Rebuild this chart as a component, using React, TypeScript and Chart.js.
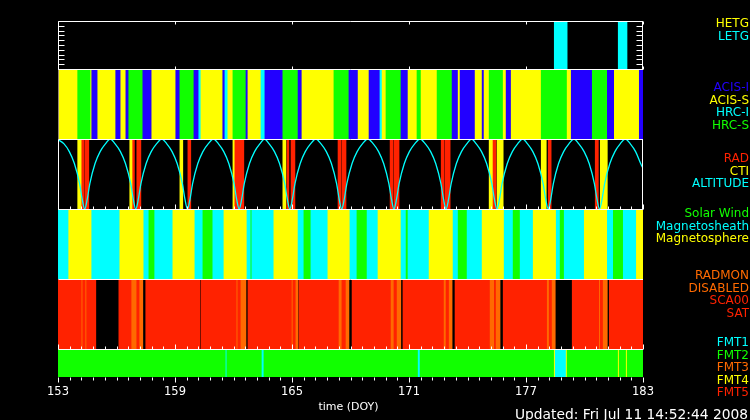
import React, { useEffect, useRef } from 'react';
import { Chart, registerables } from 'chart.js';

Chart.register(...registerables);

type Seg = [number, number, string];

const xMin = 153;
const xMax = 183;
const xTicks = [153, 159, 165, 171, 177, 183];

const gratingLegend = ['HETG', 'LETG'];
const instrumentLegend = ['ACIS-I', 'ACIS-S', 'HRC-I', 'HRC-S'];
const radLegend = ['RAD', 'CTI', 'ALTITUDE'];
const solarLegend = ['Solar Wind', 'Magnetosheath', 'Magnetosphere'];
const radmonLegend = ['RADMON', 'DISABLED', 'SCA00', 'SAT'];
const fmtLegend = ['FMT1', 'FMT2', 'FMT3', 'FMT4', 'FMT5'];

const gratingSegments: Seg[] = [
  [178.45, 179.11, 'LETG'],
  [181.73, 182.18, 'LETG'],
];

const instrumentSegments: Seg[] = [
  [153.0, 153.04, 'ACIS-I'], [153.04, 154.01, 'ACIS-S'], [154.01, 154.68, 'HRC-S'], [154.68, 154.73, 'ACIS-S'],
  [154.73, 155.04, 'ACIS-I'], [155.04, 155.96, 'ACIS-S'], [155.96, 156.22, 'ACIS-I'], [156.22, 156.48, 'ACIS-S'],
  [156.48, 156.63, 'ACIS-I'], [156.63, 157.35, 'HRC-S'], [157.35, 157.81, 'ACIS-I'], [157.81, 159.04, 'ACIS-S'],
  [159.04, 159.25, 'ACIS-I'], [159.25, 159.97, 'HRC-S'], [159.97, 160.22, 'ACIS-I'], [160.22, 160.33, 'HRC-I'],
  [160.33, 161.45, 'ACIS-S'], [161.45, 161.56, 'ACIS-I'], [161.56, 161.71, 'HRC-I'], [161.71, 161.97, 'ACIS-S'],
  [161.97, 162.64, 'HRC-S'], [162.64, 162.74, 'ACIS-I'], [162.74, 163.41, 'ACIS-S'], [163.41, 163.61, 'HRC-I'],
  [163.61, 164.53, 'ACIS-I'], [164.53, 165.31, 'HRC-S'], [165.31, 165.51, 'ACIS-I'], [165.51, 167.15, 'ACIS-S'],
  [167.15, 167.92, 'HRC-S'], [167.92, 168.39, 'ACIS-I'], [168.39, 168.95, 'ACIS-S'], [168.95, 169.51, 'ACIS-I'],
  [169.51, 169.62, 'HRC-I'], [169.62, 169.82, 'ACIS-S'], [169.82, 170.59, 'HRC-S'], [170.59, 170.95, 'ACIS-I'],
  [170.95, 171.41, 'ACIS-S'], [171.41, 171.62, 'HRC-S'], [171.62, 172.44, 'ACIS-S'], [172.44, 173.21, 'HRC-S'],
  [173.21, 173.52, 'ACIS-I'], [173.52, 173.62, 'ACIS-S'], [173.62, 174.39, 'ACIS-I'], [174.39, 174.75, 'ACIS-S'],
  [174.75, 174.85, 'ACIS-I'], [174.85, 175.11, 'ACIS-S'], [175.11, 175.83, 'HRC-S'], [175.83, 175.98, 'ACIS-S'],
  [175.98, 176.24, 'ACIS-I'], [176.24, 177.78, 'ACIS-S'], [177.78, 179.11, 'HRC-S'], [179.11, 179.32, 'ACIS-S'],
  [179.32, 180.4, 'ACIS-I'], [180.4, 181.17, 'HRC-S'], [181.17, 181.53, 'ACIS-I'], [181.53, 182.81, 'ACIS-S'],
  [182.81, 183.0, 'ACIS-I'],
];

const radSegments: Seg[] = [
  [154.01, 154.22, 'CTI'], [154.22, 154.32, 'RAD'], [154.37, 154.58, 'RAD'],
  [156.68, 156.83, 'CTI'], [156.83, 156.92, 'RAD'], [157.04, 157.25, 'RAD'],
  [159.25, 159.40, 'CTI'], [159.66, 159.81, 'RAD'],
  [161.97, 162.07, 'CTI'], [162.07, 162.53, 'RAD'],
  [164.53, 164.69, 'CTI'], [164.74, 164.84, 'RAD'], [164.95, 165.15, 'RAD'],
  [167.36, 167.51, 'RAD'], [167.56, 167.77, 'RAD'],
  [170.03, 170.18, 'RAD'], [170.23, 170.49, 'RAD'],
  [172.65, 172.80, 'RAD'], [172.85, 173.11, 'RAD'],
  [175.11, 175.31, 'CTI'], [175.31, 175.47, 'RAD'], [175.52, 175.83, 'CTI'],
  [177.78, 178.04, 'CTI'], [178.14, 178.29, 'RAD'],
  [180.55, 180.71, 'RAD'], [180.81, 181.17, 'CTI'],
];

// altitude (normalised 0 = perigee, 1 = apogee), [DOY, value]
const altitude: [number, number][] = [
  [153.00, 0.99], [153.31, 0.93], [153.58, 0.82], [153.84, 0.65], [154.11, 0.36], [154.24, 0.14], [154.37, 0.0],
  [154.50, 0.14], [154.63, 0.36], [154.90, 0.65], [155.16, 0.82], [155.43, 0.93], [155.68, 1.0],
  [155.93, 0.93], [156.20, 0.82], [156.46, 0.65], [156.73, 0.36], [156.86, 0.14], [156.99, 0.0],
  [157.12, 0.14], [157.25, 0.36], [157.52, 0.65], [157.78, 0.82], [158.05, 0.93], [158.32, 1.0],
  [158.58, 0.93], [158.85, 0.82], [159.11, 0.65], [159.38, 0.36], [159.51, 0.14], [159.64, 0.0],
  [159.77, 0.14], [159.90, 0.36], [160.17, 0.65], [160.43, 0.82], [160.70, 0.93], [160.97, 1.0],
  [161.23, 0.93], [161.50, 0.82], [161.76, 0.65], [162.03, 0.36], [162.16, 0.14], [162.29, 0.0],
  [162.42, 0.14], [162.55, 0.36], [162.82, 0.65], [163.08, 0.82], [163.35, 0.93], [163.59, 1.0],
  [163.83, 0.93], [164.10, 0.82], [164.36, 0.65], [164.63, 0.36], [164.76, 0.14], [164.89, 0.0],
  [165.02, 0.14], [165.15, 0.36], [165.42, 0.65], [165.68, 0.82], [165.95, 0.93], [166.22, 1.0],
  [166.49, 0.93], [166.76, 0.82], [167.02, 0.65], [167.29, 0.36], [167.42, 0.14], [167.55, 0.0],
  [167.68, 0.14], [167.81, 0.36], [168.08, 0.65], [168.34, 0.82], [168.61, 0.93], [168.89, 1.0],
  [169.17, 0.93], [169.44, 0.82], [169.70, 0.65], [169.97, 0.36], [170.10, 0.14], [170.23, 0.0],
  [170.36, 0.14], [170.49, 0.36], [170.76, 0.65], [171.02, 0.82], [171.29, 0.93], [171.57, 1.0],
  [171.84, 0.93], [172.11, 0.82], [172.37, 0.65], [172.64, 0.36], [172.77, 0.14], [172.90, 0.0],
  [173.03, 0.14], [173.16, 0.36], [173.43, 0.65], [173.69, 0.82], [173.96, 0.93], [174.21, 1.0],
  [174.45, 0.93], [174.72, 0.82], [174.98, 0.65], [175.25, 0.36], [175.38, 0.14], [175.51, 0.0],
  [175.64, 0.14], [175.77, 0.36], [176.04, 0.65], [176.30, 0.82], [176.57, 0.93], [176.83, 1.0],
  [177.08, 0.93], [177.35, 0.82], [177.61, 0.65], [177.88, 0.36], [178.01, 0.14], [178.14, 0.0],
  [178.27, 0.14], [178.40, 0.36], [178.67, 0.65], [178.93, 0.82], [179.20, 0.93], [179.46, 1.0],
  [179.71, 0.93], [179.98, 0.82], [180.24, 0.65], [180.51, 0.36], [180.64, 0.14], [180.77, 0.0],
  [180.90, 0.14], [181.03, 0.36], [181.30, 0.65], [181.56, 0.82], [181.83, 0.93], [182.09, 1.0],
  [182.35, 0.93], [182.62, 0.82], [182.88, 0.65], [183.00, 0.58],
];

const solarSegments: Seg[] = [
  [153.0, 153.55, 'Magnetosheath'], [153.55, 154.73, 'Magnetosphere'], [154.73, 156.17, 'Magnetosheath'],
  [156.17, 157.40, 'Magnetosphere'], [157.40, 157.66, 'Magnetosheath'], [157.66, 157.96, 'Solar Wind'],
  [157.96, 158.89, 'Magnetosheath'], [158.89, 160.02, 'Magnetosphere'], [160.02, 160.43, 'Magnetosheath'],
  [160.43, 160.94, 'Solar Wind'], [160.94, 161.51, 'Magnetosheath'], [161.51, 162.69, 'Magnetosphere'],
  [162.69, 162.89, 'Magnetosheath'], [162.89, 162.94, 'Solar Wind'], [162.94, 164.07, 'Magnetosheath'],
  [164.07, 165.31, 'Magnetosphere'], [165.31, 165.61, 'Magnetosheath'], [165.61, 165.97, 'Solar Wind'],
  [165.97, 166.84, 'Magnetosheath'], [166.84, 167.97, 'Magnetosphere'], [167.97, 168.33, 'Magnetosheath'],
  [168.33, 168.85, 'Solar Wind'], [168.85, 169.41, 'Magnetosheath'], [169.41, 170.59, 'Magnetosphere'],
  [170.59, 170.85, 'Magnetosheath'], [170.85, 170.95, 'Solar Wind'], [170.95, 172.03, 'Magnetosheath'],
  [172.03, 173.26, 'Magnetosphere'], [173.26, 173.52, 'Magnetosheath'], [173.52, 173.98, 'Solar Wind'],
  [173.98, 174.75, 'Magnetosheath'], [174.75, 175.88, 'Magnetosphere'], [175.88, 176.34, 'Magnetosheath'],
  [176.34, 176.70, 'Solar Wind'], [176.70, 177.37, 'Magnetosheath'], [177.37, 178.55, 'Magnetosphere'],
  [178.55, 178.75, 'Magnetosheath'], [178.75, 178.96, 'Solar Wind'], [178.96, 179.99, 'Magnetosheath'],
  [179.99, 181.17, 'Magnetosphere'], [181.17, 181.48, 'Magnetosheath'], [181.48, 181.99, 'Solar Wind'],
  [181.99, 182.66, 'Magnetosheath'], [182.66, 183.0, 'Magnetosphere'],
];

const radmonSegments: Seg[] = [
  [153.0, 154.22, 'SAT'], [154.22, 154.27, 'DISABLED'], [154.27, 154.42, 'SAT'], [154.42, 154.47, 'DISABLED'], [154.47, 154.94, 'SAT'],
  [156.12, 156.78, 'SAT'], [156.78, 157.04, 'DISABLED'], [157.04, 157.19, 'SAT'], [157.19, 157.35, 'DISABLED'],
  [157.50, 160.27, 'SAT'],
  [160.33, 162.17, 'SAT'], [162.17, 162.22, 'DISABLED'], [162.22, 162.38, 'SAT'], [162.38, 162.64, 'DISABLED'],
  [162.74, 165.00, 'SAT'], [165.00, 165.05, 'DISABLED'], [165.05, 165.20, 'SAT'], [165.20, 165.31, 'DISABLED'],
  [165.36, 167.41, 'SAT'], [167.41, 167.56, 'DISABLED'], [167.56, 167.77, 'SAT'], [167.77, 167.92, 'DISABLED'],
  [168.08, 170.08, 'SAT'], [170.08, 170.23, 'DISABLED'], [170.23, 170.39, 'SAT'], [170.39, 170.58, 'DISABLED'],
  [170.69, 172.80, 'SAT'], [172.80, 172.90, 'DISABLED'], [172.90, 173.06, 'SAT'], [173.06, 173.21, 'DISABLED'],
  [173.36, 175.16, 'SAT'], [175.16, 175.38, 'DISABLED'], [175.38, 175.47, 'SAT'], [175.47, 175.67, 'DISABLED'],
  [175.83, 178.09, 'SAT'], [178.09, 178.19, 'DISABLED'], [178.19, 178.34, 'SAT'], [178.34, 178.50, 'DISABLED'],
  [179.37, 180.76, 'SAT'], [180.76, 180.81, 'DISABLED'], [180.81, 180.96, 'SAT'], [180.96, 181.17, 'DISABLED'],
  [181.27, 183.0, 'SAT'],
];

const fmtSegments: Seg[] = [
  [153.0, 161.61, 'FMT2'], [161.61, 161.66, 'FMT1'], [161.66, 163.46, 'FMT2'], [163.46, 163.56, 'FMT1'],
  [163.56, 171.47, 'FMT2'], [171.47, 171.57, 'FMT1'], [171.57, 178.45, 'FMT2'], [178.45, 178.50, 'FMT4'],
  [178.50, 179.06, 'FMT1'], [179.06, 179.11, 'FMT4'], [179.11, 181.73, 'FMT2'], [181.73, 181.78, 'FMT4'],
  [181.78, 182.14, 'FMT2'], [182.14, 182.19, 'FMT4'], [182.19, 183.0, 'FMT2'],
];

const YELLOW = '#ffff00';
const CYAN = '#00ffff';
const BLUE = '#2200ff';
const GREEN = '#11ff00';
const RED = '#ff2200';
const ORANGE = '#ff6a00';

const labelColor: Record<string, string> = {
  HETG: YELLOW, LETG: CYAN,
  'ACIS-I': BLUE, 'ACIS-S': YELLOW, 'HRC-I': CYAN, 'HRC-S': GREEN,
  RAD: RED, CTI: YELLOW, ALTITUDE: CYAN,
  'Solar Wind': GREEN, Magnetosheath: CYAN, Magnetosphere: YELLOW,
  RADMON: ORANGE, DISABLED: ORANGE, SCA00: RED, SAT: RED,
  FMT1: CYAN, FMT2: GREEN, FMT3: ORANGE, FMT4: YELLOW, FMT5: RED,
};

const panels = [
  { id: 'yGrat', weight: 48, segs: gratingSegments, legend: gratingLegend, legendTop: 24 },
  { id: 'yInst', weight: 70, segs: instrumentSegments, legend: instrumentLegend, legendTop: 88 },
  { id: 'yRad', weight: 70, segs: radSegments, legend: radLegend, legendTop: 159 },
  { id: 'ySolar', weight: 70, segs: solarSegments, legend: solarLegend, legendTop: 214 },
  { id: 'yRadmon', weight: 70, segs: radmonSegments, legend: radmonLegend, legendTop: 276 },
  { id: 'yFmt', weight: 28, segs: fmtSegments, legend: fmtLegend, legendTop: 343 },
];

const decoPlugin = {
  id: 'deco',
  afterDraw(chart: any) {
    const ctx: CanvasRenderingContext2D = chart.ctx;
    const xs = chart.scales.x;
    const s = (id: string) => chart.scales[id];
    const L = Math.round(xs.left) + 0.5;
    const R = Math.round(xs.right) - 0.5;
    const py = (v: number) => Math.round(v) + 0.5;
    const px = (v: number) => Math.round(xs.getPixelForValue(v)) + 0.5;
    ctx.save();
    ctx.strokeStyle = '#ffffff';
    ctx.lineWidth = 1;
    const line = (x1: number, y1: number, x2: number, y2: number) => {
      ctx.beginPath();
      ctx.moveTo(x1, y1);
      ctx.lineTo(x2, y2);
      ctx.stroke();
    };
    const g = s('yGrat');
    const r = s('yRad');
    const so = s('ySolar');
    const rm = s('yRadmon');
    const f = s('yFmt');
    [g.top, g.bottom, r.top, r.bottom, so.bottom, rm.bottom].forEach((y: number) => line(L, py(y), R + 0.5, py(y)));
    [g, r].forEach((p: any) => {
      line(L, py(p.top), L, py(p.bottom));
      line(R, py(p.top), R, py(p.bottom));
    });
    for (let k = 1; k <= 9; k++) {
      const y = py(g.getPixelForValue(k / 10));
      line(L, y, L + 6, y);
      line(R - 6, y, R, y);
    }
    xTicks.forEach((v) => {
      line(px(v), py(g.top), px(v), py(g.top) + 3);
      line(px(v), py(g.bottom), px(v), py(g.bottom) - 3);
    });
    for (let i = 0; i <= 50; i++) {
      const v = xMin + i * 0.6;
      const major = i % 10 === 0;
      const len = major ? 5 : 3;
      const x = px(v);
      line(x, py(r.bottom), x, py(r.bottom) - len);
      line(x, py(rm.bottom), x, py(rm.bottom) - len);
      line(x, py(f.bottom), x, py(f.bottom) + len);
    }
    ctx.fillStyle = '#ffffff';
    ctx.font = '11.5px "DejaVu Sans"';
    ctx.textAlign = 'center';
    ctx.textBaseline = 'middle';
    xTicks.forEach((v) => ctx.fillText(String(v), xs.getPixelForValue(v), 392));
    ctx.font = '11px "DejaVu Sans"';
    ctx.fillText('time (DOY)', (xs.left + xs.right) / 2 - 2, 407);
    ctx.font = '13.8px "DejaVu Sans"';
    ctx.textAlign = 'left';
    ctx.fillText('Updated: Fri Jul 11 14:52:44 2008', 515, 415);
    ctx.font = '12px "DejaVu Sans"';
    ctx.textAlign = 'right';
    panels.forEach((p) => {
      p.legend.forEach((lab, i) => {
        ctx.fillStyle = labelColor[lab];
        ctx.fillText(lab, 749, p.legendTop + i * 12.5);
      });
    });
    ctx.restore();
  },
};

export default function App() {
  const ref = useRef<HTMLCanvasElement>(null);
  useEffect(() => {
    document.body.style.margin = '0';
    document.body.style.background = '#000';
    const datasets: any[] = [];
    datasets.push({
      type: 'line',
      label: 'ALTITUDE',
      data: altitude.map(([x, y]) => ({ x, y })),
      xAxisID: 'x',
      yAxisID: 'yRad',
      borderColor: CYAN,
      borderWidth: 1.3,
      pointRadius: 0,
      fill: false,
      cubicInterpolationMode: 'monotone',
      order: -1,
    });
    panels.forEach((p) => {
      datasets.push({
        type: 'bar',
        label: p.id,
        indexAxis: 'y',
        xAxisID: 'x',
        yAxisID: p.id,
        data: p.segs.map(([a, b]) => ({ x: [a, b], y: 0.5 })),
        backgroundColor: p.segs.map((sg) => labelColor[sg[2]]),
        borderWidth: 0,
        grouped: false,
        inflateAmount: 0.33,
        barThickness: (c: any) => c.chart.scales[p.id].height,
      });
    });
    const scales: any = {
      x: { type: 'linear', min: xMin, max: xMax, display: false, position: 'bottom', offset: false },
    };
    panels.forEach((p, i) => {
      scales[p.id] = {
        type: 'linear',
        min: 0,
        max: 1,
        offset: false,
        display: false,
        position: 'left',
        stack: 'panels',
        stackWeight: p.weight,
        weight: panels.length - i,
      };
    });
    const chart = new Chart(ref.current as HTMLCanvasElement, {
      type: 'line',
      data: { datasets },
      options: {
        animation: false,
        responsive: false,
        events: [],
        layout: { padding: { left: 58, right: 107, top: 21, bottom: 43 } },
        plugins: { legend: { display: false }, tooltip: { enabled: false } },
        scales,
      } as any,
      plugins: [decoPlugin],
    });
    return () => chart.destroy();
  }, []);
  return (
    <div style={{ width: 750, height: 420, background: '#000', overflow: 'hidden' }}>
      <canvas ref={ref} width={750} height={420} style={{ display: 'block', width: 750, height: 420 }} />
    </div>
  );
}
